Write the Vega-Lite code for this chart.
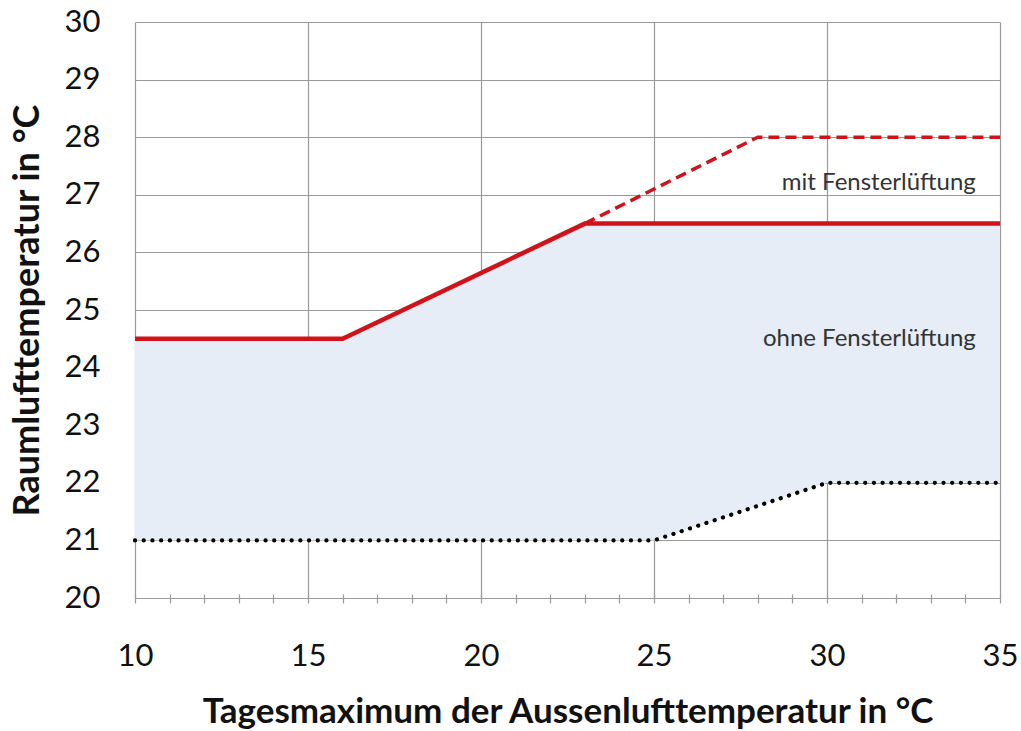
{
  "$schema": "https://vega.github.io/schema/vega-lite/v6.json",
  "width": 865,
  "height": 576,
  "autosize": {"type": "none"},
  "padding": {"left": 135, "top": 22, "right": 21, "bottom": 133},
  "background": "white",
  "config": {
    "view": {"stroke": null},
    "font": "Lato",
    "axis": {"labelFont": "Lato", "titleFont": "Lato", "gridColor": "#9a9a9a", "gridWidth": 1.2, "tickColor": "#9a9a9a", "labelColor": "#111", "titleColor": "#111"}
  },
  "datasets": {
    "band": [
      {"x": 10, "lo": 21, "hi": 24.5},
      {"x": 16, "lo": 21, "hi": 24.5},
      {"x": 23, "lo": 21, "hi": 26.5},
      {"x": 25, "lo": 21, "hi": 26.5},
      {"x": 30, "lo": 22, "hi": 26.5},
      {"x": 35, "lo": 22, "hi": 26.5}
    ],
    "lines": [
      {"series": "ohne", "x": 10, "y": 24.5},
      {"series": "ohne", "x": 16, "y": 24.5},
      {"series": "ohne", "x": 23, "y": 26.5},
      {"series": "ohne", "x": 35, "y": 26.5},
      {"series": "mit", "x": 23, "y": 26.5},
      {"series": "mit", "x": 28, "y": 28},
      {"series": "mit", "x": 35, "y": 28},
      {"series": "unten", "x": 10, "y": 21},
      {"series": "unten", "x": 25, "y": 21},
      {"series": "unten", "x": 30, "y": 22},
      {"series": "unten", "x": 35, "y": 22}
    ],
    "labels": [
      {"x": 34.3, "y": 27.2, "text": "mit Fensterlüftung"},
      {"x": 34.3, "y": 24.5, "text": "ohne Fensterlüftung"}
    ]
  },
  "layer": [
    {
      "data": {"name": "band"},
      "mark": {"type": "area", "color": "#e7edf6", "opacity": 1},
      "encoding": {
        "x": {
          "field": "x", "type": "quantitative",
          "scale": {"domain": [10, 35], "nice": false, "zero": false},
          "axis": {
            "orient": "bottom",
            "values": [10,11,12,13,14,15,16,17,18,19,20,21,22,23,24,25,26,27,28,29,30,31,32,33,34,35],
            "labelExpr": "datum.value % 5 === 0 ? datum.label : ''",
            "offset": -4,
            "tickSize": 9,
            "tickWidth": 1.2,
            "domain": false,
            "grid": false,
            "labelFontSize": 31,
            "labelPadding": 38,
            "labelFlush": false,
            "labelOverlap": false,
            "title": "Tagesmaximum der Aussenlufttemperatur in °C",
            "titleFontSize": 35,
            "titleFontWeight": "bold",
            "titlePadding": 23
          }
        },
        "y": {
          "field": "lo", "type": "quantitative",
          "scale": {"domain": [20, 30], "nice": false, "zero": false},
          "axis": {
            "values": [20,21,22,23,24,25,26,27,28,29,30],
            "format": "d",
            "grid": true,
            "domain": false,
            "ticks": false,
            "labelFontSize": 31,
            "labelPadding": 35,
            "title": "Raumlufttemperatur in °C",
            "titleFontSize": 36,
            "titleFontWeight": "bold",
            "titlePadding": 18
          }
        },
        "y2": {"field": "hi"}
      }
    },
    {
      "data": {"name": "lines"},
      "transform": [{"filter": "datum.series === 'unten'"}],
      "mark": {"type": "line", "color": "#000000", "strokeWidth": 4.2, "strokeDash": [0.1, 8.6], "strokeCap": "round"},
      "encoding": {
        "x": {"field": "x", "type": "quantitative", "axis": {"orient": "top", "values": [10,15,20,25,30,35], "grid": true, "domain": false, "ticks": false, "labels": false, "title": null}},
        "y": {"field": "y", "type": "quantitative"}
      }
    },
    {
      "data": {"name": "lines"},
      "transform": [{"filter": "datum.series === 'mit'"}],
      "mark": {"type": "line", "color": "#d0121b", "strokeWidth": 3.5, "strokeDash": [11, 6]},
      "encoding": {
        "x": {"field": "x", "type": "quantitative", "axis": null},
        "y": {"field": "y", "type": "quantitative"}
      }
    },
    {
      "data": {"name": "lines"},
      "transform": [{"filter": "datum.series === 'ohne'"}],
      "mark": {"type": "line", "color": "#d0121b", "strokeWidth": 4.5},
      "encoding": {
        "x": {"field": "x", "type": "quantitative", "axis": null},
        "y": {"field": "y", "type": "quantitative"}
      }
    },
    {
      "data": {"name": "labels"},
      "mark": {"type": "text", "align": "right", "baseline": "middle", "fontSize": 24, "font": "Lato", "color": "#333333"},
      "encoding": {
        "x": {"field": "x", "type": "quantitative", "axis": null},
        "y": {"field": "y", "type": "quantitative"},
        "text": {"field": "text"}
      }
    }
  ],
  "resolve": {"axis": {"x": "independent"}}
}
